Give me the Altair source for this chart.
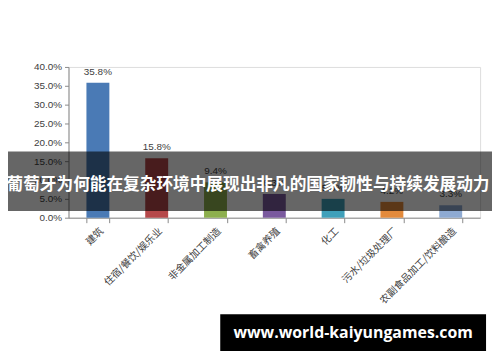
import altair as alt
import pandas as pd

categories = ["建筑", "住宿/餐饮/娱乐业", "非金属加工制造", "畜禽养殖", "化工", "污水/垃圾处理厂", "农副食品加工/饮料酿造"]
values = [0.358, 0.158, 0.094, 0.063, 0.050, 0.042, 0.033]
colors = ["#4A7AB5", "#B5484A", "#8DAF4E", "#7A5A9E", "#3FA0BA", "#E38A3B", "#8EAAD2"]
y_ticks = [0.0, 0.05, 0.10, 0.15, 0.20, 0.25, 0.30, 0.35, 0.40]
banner_text = ["葡萄牙为何能在复杂环境中展现出非凡的国家韧性与持续发展动力"]
watermark_text = ["www.world-kaiyungames.com"]

df = pd.DataFrame({"cat": categories, "val": values, "color": colors})

x_enc = alt.X("cat:N", sort=categories, title=None,
              scale=alt.Scale(paddingInner=0.61, paddingOuter=0.305),
              axis=alt.Axis(labelAngle=-45, labelFont="Noto Sans CJK SC", labelFontSize=10,
                            labelColor="#404040", domainColor="#8a8a8a", tickColor="#8a8a8a",
                            tickSize=5, tickBand="extent", labelPadding=3, grid=False))
y_enc = alt.Y("val:Q", title=None,
              scale=alt.Scale(domain=[0, 0.4], nice=False),
              axis=alt.Axis(values=y_ticks, format=".1%", labelFont="Liberation Sans",
                            labelFontSize=10, labelColor="#404040", domainColor="#8a8a8a",
                            tickColor="#8a8a8a", tickSize=4, labelPadding=3, grid=False,
                            labelOverlap=False, labelBound=False))

base = alt.Chart(df)
bars = base.mark_bar().encode(x=x_enc, y=y_enc, color=alt.Color("color:N", scale=None))
labels = base.mark_text(dy=-6, baseline="bottom", fontSize=10, font="Liberation Sans",
                        color="#404040").encode(x=x_enc, y=y_enc,
                                                 text=alt.Text("val:Q", format=".1%"))

bdf = pd.DataFrame({"t": banner_text})
banner = alt.Chart(bdf).mark_rect(color="black", opacity=0.6).encode(
    x=alt.value(-61), x2=alt.value(427), y=alt.value(85.3), y2=alt.value(145.3))
banner_t = alt.Chart(bdf).mark_text(color="white", fontSize=16.8, fontWeight="bold",
                                    font="Noto Sans CJK SC", align="center", baseline="middle").encode(
    x=alt.value(181), y=alt.value(119.5), text="t:N")

wdf = pd.DataFrame({"t": watermark_text})
wm = alt.Chart(wdf).mark_rect(color="black").encode(
    x=alt.value(153), x2=alt.value(421), y=alt.value(249.3), y2=alt.value(286.3))
wm_t = alt.Chart(wdf).mark_text(color="white", fontSize=16, fontWeight="bold",
                                font="Open Sans", align="center", baseline="middle").encode(
    x=alt.value(287), y=alt.value(268.3), text="t:N")

chart = alt.layer(bars, labels, banner, banner_t, wm, wm_t).properties(
    width=415, height=152,
    autosize=alt.AutoSizeParams(type="none"),
    padding={"left": 61, "top": 58, "right": 12, "bottom": 138},
).configure_view(stroke=None).configure(background="white").configure_axisY(
    labelOverlap=False, values=y_ticks)

chart.save("out.html", embed_options={"renderer": "svg", "actions": False})
